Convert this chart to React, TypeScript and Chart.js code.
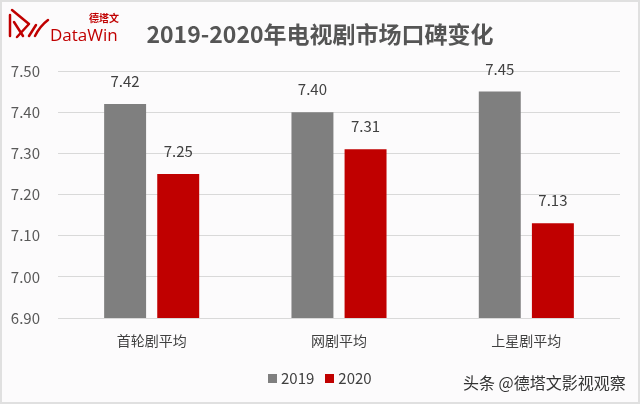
import React, { useEffect, useRef } from "react";
import { Chart, registerables } from "chart.js";

Chart.register(...registerables);

const categories = ["首轮剧平均", "网剧平均", "上星剧平均"];
const series2019 = [7.42, 7.4, 7.45];
const series2020 = [7.25, 7.31, 7.13];
const seriesNames = ["2019", "2020"];
const yTicks = [6.9, 7.0, 7.1, 7.2, 7.3, 7.4, 7.5];
const titleText = "2019-2020年电视剧市场口碑变化";
const watermark = "头条 @德塔文影视观察";

const GRAY = "#7f7f7f";
const RED = "#c00000";
const FONT = "'Noto Sans CJK SC', 'Open Sans', sans-serif";

const labelPlugin = {
  id: "valueLabels",
  afterDatasetsDraw(chart: any) {
    const ctx = chart.ctx;
    ctx.save();
    ctx.font = `15px ${FONT}`;
    ctx.fillStyle = "#404040";
    ctx.textAlign = "center";
    ctx.textBaseline = "alphabetic";
    chart.data.datasets.forEach((ds: any, i: number) => {
      const meta = chart.getDatasetMeta(i);
      meta.data.forEach((bar: any, j: number) => {
        ctx.fillText(Number(ds.data[j]).toFixed(2), bar.x, bar.y - 17);
      });
    });
    ctx.restore();
  },
};

export default function App() {
  const ref = useRef<HTMLCanvasElement | null>(null);
  useEffect(() => {
    if (!ref.current) return;
    const chart = new Chart(ref.current, {
      type: "bar",
      data: {
        labels: categories,
        datasets: [
          { label: seriesNames[0], data: series2019, backgroundColor: GRAY },
          { label: seriesNames[1], data: series2020, backgroundColor: RED },
        ],
      },
      options: {
        animation: false,
        responsive: false,
        maintainAspectRatio: false,
        layout: { padding: { top: 71, right: 20, bottom: 40, left: 0 } },
        plugins: { legend: { display: false }, tooltip: { enabled: false }, title: { display: false } },
        datasets: { bar: { categoryPercentage: 0.567, barPercentage: 0.79 } } as any,
        scales: {
          x: {
            grid: { display: false, drawTicks: false },
            border: { display: false },
            ticks: { color: "#404040", font: { size: 14, family: FONT }, padding: 14 },
            afterFit: (s: any) => { s.height = 46; },
          },
          y: {
            min: 6.9,
            max: 7.5,
            afterBuildTicks: (s: any) => { s.ticks = yTicks.map((v) => ({ value: v })); },
            grid: { color: "#d9d9d9", drawTicks: false },
            border: { display: false },
            ticks: {
              color: "#595959",
              font: { size: 15, family: FONT },
              padding: 18,
              callback: (v: any) => Number(v).toFixed(2),
            },
            afterFit: (s: any) => { s.width = 58; },
          },
        },
      },
      plugins: [labelPlugin],
    });
    return () => chart.destroy();
  }, []);

  return (
    <div style={{ position: "fixed", left: 0, top: 0, width: 640, height: 404, background: "#fcfbfc", overflow: "hidden", fontFamily: FONT }}>
      <canvas ref={ref} width={640} height={404} style={{ position: "absolute", left: 0, top: 0 }} />
      <div style={{ position: "absolute", inset: 0, border: "2px solid #e0e0e0", boxSizing: "border-box", pointerEvents: "none" }} />
      <svg width={50} height={44} style={{ position: "absolute", left: 0, top: 0 }} viewBox="0 0 50 44">
        <path d="M10 15 L10 36" stroke={RED} strokeWidth={2.5} fill="none" strokeLinecap="round" />
        <path d="M12 10 L29 24 L17 37" stroke={RED} strokeWidth={2.5} fill="none" strokeLinecap="round" strokeLinejoin="round" />
        <path d="M14 22 L23 36" stroke={RED} strokeWidth={2.5} fill="none" strokeLinecap="round" />
        <path d="M29 36 L36 25 M35 36 Q40 26 48 20" stroke={RED} strokeWidth={2.5} fill="none" strokeLinecap="round" />
      </svg>
      <div style={{ position: "absolute", left: 89, top: 11, fontSize: 10, color: RED, lineHeight: "13px", fontWeight: 700 }}>德塔文</div>
      <div style={{ position: "absolute", left: 50, top: 24, fontSize: 17, color: RED, lineHeight: "21px", fontFamily: "'Open Sans', sans-serif" }}>DataWin</div>
      <div style={{ position: "absolute", left: 0, width: 640, top: 17, textAlign: "center", fontSize: 23, fontWeight: 700, color: "#555", lineHeight: "32px" }}>{titleText}</div>
      <div style={{ position: "absolute", left: 268, top: 368, display: "flex", alignItems: "center", fontSize: 15, color: "#404040", lineHeight: "20px" }}>
        <span style={{ width: 9, height: 9, background: GRAY, display: "inline-block", marginRight: 4 }} />
        <span style={{ marginRight: 11 }}>{seriesNames[0]}</span>
        <span style={{ width: 9, height: 9, background: RED, display: "inline-block", marginRight: 4 }} />
        <span>{seriesNames[1]}</span>
      </div>
      <div style={{ position: "absolute", left: 463, top: 371, fontSize: 16, color: "#333", lineHeight: "22px", textShadow: "0 0 2px #fff" }}>{watermark}</div>
    </div>
  );
}
